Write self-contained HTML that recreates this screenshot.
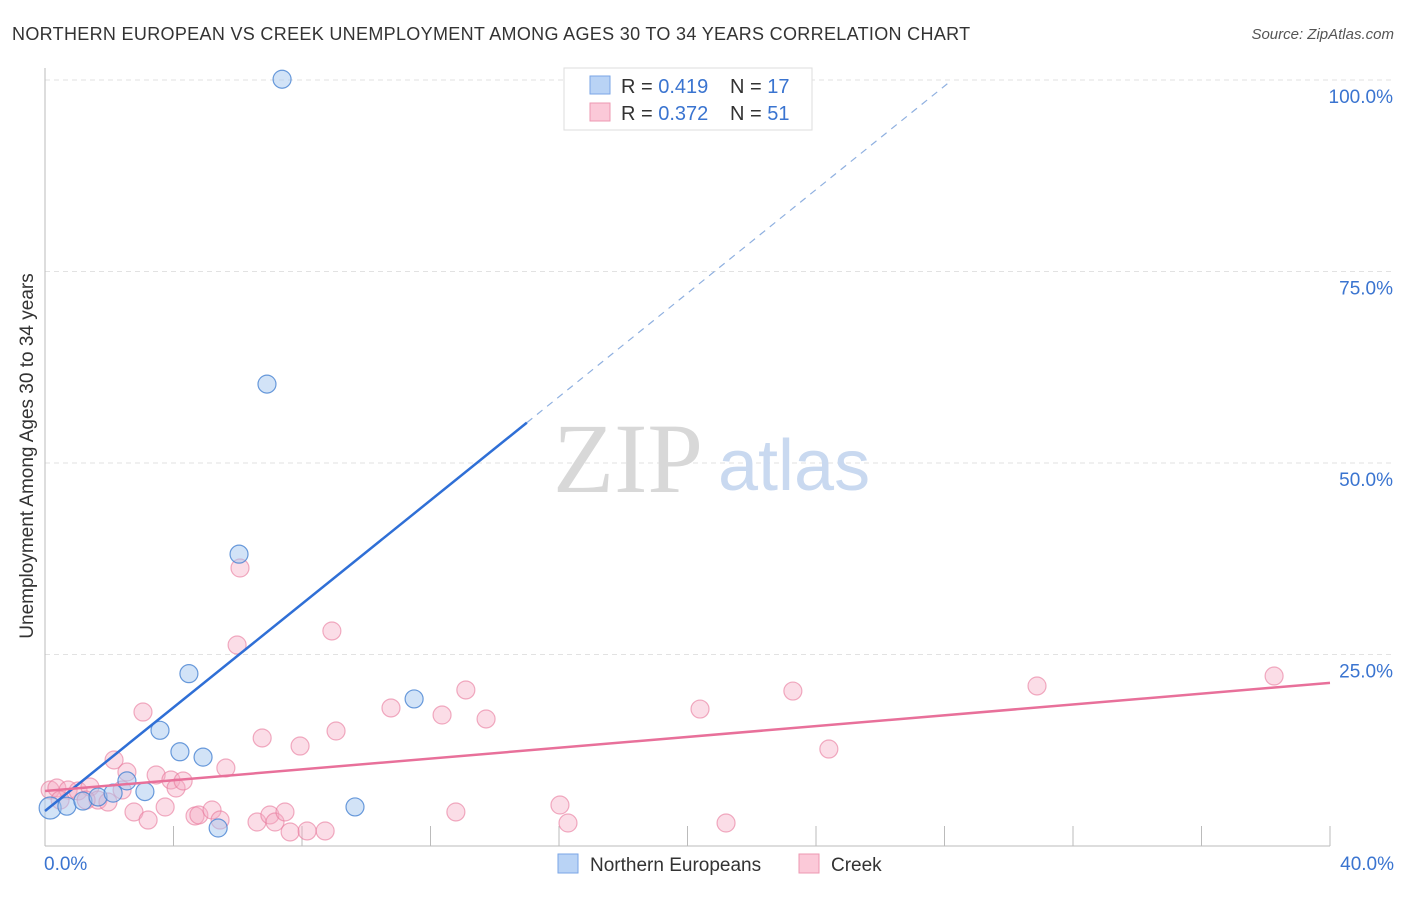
<!DOCTYPE html>
<html><head><meta charset="utf-8"><style>
body{margin:0;background:#fff;font-family:"Liberation Sans",sans-serif}
svg text{font-family:"Liberation Sans",sans-serif}
</style></head><body>
<svg id="chart" width="1406" height="892" xmlns="http://www.w3.org/2000/svg">
<text x="12" y="40" font-size="18" fill="#333" letter-spacing="0.32">NORTHERN EUROPEAN VS CREEK UNEMPLOYMENT AMONG AGES 30 TO 34 YEARS CORRELATION CHART</text>
<text x="1394" y="39" font-size="15" fill="#555" font-style="italic" text-anchor="end">Source: ZipAtlas.com</text>
<g id="grid"></g>
<g id="axes"></g>
<text x="553" y="492" font-size="100" fill="#d8d8d8" style="font-family:'Liberation Serif',serif">ZIP</text>
<text x="718" y="490" font-size="72" fill="#c9d9f0">atlas</text>
<g id="pts"></g>
<g id="lines"></g>
<text x="33" y="456" font-size="19" fill="#333" text-anchor="middle" transform="rotate(-90 33 456)">Unemployment Among Ages 30 to 34 years</text>
<g>
<rect x="564" y="68" width="248" height="62" fill="#fff" stroke="#ddd"/>
<rect x="590" y="76" width="20" height="18" fill="#b9d3f5" stroke="#7aa6e6"/>
<rect x="590" y="103" width="20" height="18" fill="#fbc9d8" stroke="#ee98b2"/>
<text x="621" y="93" font-size="20" fill="#333">R = <tspan fill="#3a74d0">0.419</tspan><tspan x="730">N = </tspan><tspan fill="#3a74d0">17</tspan></text>
<text x="621" y="120" font-size="20" fill="#333">R = <tspan fill="#3a74d0">0.372</tspan><tspan x="730">N = </tspan><tspan fill="#3a74d0">51</tspan></text>
</g>
<g>
<rect x="558" y="854" width="20" height="19" fill="#b9d3f5" stroke="#7aa6e6"/>
<text x="590" y="871" font-size="19" fill="#333">Northern Europeans</text>
<rect x="799" y="854" width="20" height="19" fill="#fbc9d8" stroke="#ee98b2"/>
<text x="831" y="871" font-size="19" fill="#333">Creek</text>
</g>
</svg>
<script>
const blueX=[0.16,0.68,1.18,1.65,2.12,2.55,3.11,3.58,4.2,4.48,4.92,5.39,6.04,6.91,7.38,9.65,11.49];
const blueY=[4.96,5.2,5.87,6.4,6.9,8.5,7.1,15.1,12.3,22.5,11.6,2.35,38.1,60.3,100.1,5.1,19.2];
const pinkX=[0.16,0.37,0.72,1.03,1.40,1.65,1.96,2.15,2.40,2.55,2.77,3.05,3.21,3.46,3.74,3.92,4.08,4.30,4.67,4.79,5.20,5.45,5.63,5.98,6.07,6.60,6.76,7.00,7.16,7.47,7.63,7.94,8.16,8.72,8.93,9.06,10.77,12.36,12.79,13.10,13.73,16.03,16.28,20.39,21.20,23.28,24.40,30.88,38.26,0.47,1.28];
const pinkY=[7.31,7.57,7.31,7.18,7.70,6.00,5.74,11.23,7.31,9.66,4.44,17.49,3.39,9.27,5.09,8.62,7.57,8.49,3.92,4.05,4.70,3.39,10.18,26.24,36.29,3.13,14.10,4.05,3.13,4.44,1.83,13.05,1.96,1.96,28.07,15.01,18.02,17.10,4.44,20.37,16.58,5.35,3.0,17.88,3.0,20.23,12.66,20.89,22.19,6.0,6.0];
const yTicks=[25,50,75,100];
const yTickLabels=["25.0%","50.0%","75.0%","100.0%"];
const xTicks=[0,4,8,12,16,20,24,28,32,36,40];
const blueTrend=[4.57,3.38];   // intercept, slope
const pinkTrend=[7.18,0.353];
const NS="http://www.w3.org/2000/svg";
const sx=v=>45+v/40*1285, sy=v=>846-v/100*766;
function mk(t,a,p){const e=document.createElementNS(NS,t);for(const k in a)e.setAttribute(k,a[k]);p.appendChild(e);return e;}
const grid=document.getElementById('grid'),axes=document.getElementById('axes'),pts=document.getElementById('pts'),lines=document.getElementById('lines');
yTicks.forEach((t,i)=>{
 const l=mk('line',{x1:45,x2:1394,y1:sy(t),y2:sy(t),stroke:'#e2e2e2','stroke-dasharray':'5,4'},grid);
 
 
 const tx=mk('text',{x:1393,y:sy(t)+23,'font-size':19,fill:'#3a74d0','text-anchor':'end'},axes);
 tx.textContent=yTickLabels[i];
 
 
});
mk('line',{x1:45,x2:45,y1:68,y2:846,stroke:'#bbb'},axes);
mk('line',{x1:45,x2:1330,y1:846,y2:846,stroke:'#bbb'},axes);
xTicks.forEach(t=>{if(t>0){const l=mk('line',{x1:sx(t),x2:sx(t),y1:826,y2:846,stroke:'#bbb'},axes);
 
 }});
const x0=mk('text',{x:44,y:870,'font-size':19,fill:'#3a74d0'},axes);x0.textContent='0.0%';


const x1=mk('text',{x:1394,y:870,'font-size':19,fill:'#3a74d0','text-anchor':'end'},axes);x1.textContent='40.0%';


pinkX.forEach((v,i)=>{const c=mk('circle',{cx:sx(v),cy:sy(pinkY[i]),r:9,fill:'rgba(246,170,195,0.4)',stroke:'rgba(232,120,155,0.6)','stroke-width':1.2},pts);
 
 });
blueX.forEach((v,i)=>{const c=mk('circle',{cx:sx(v),cy:sy(blueY[i]),r:i==0?11:9,fill:'rgba(165,200,240,0.5)',stroke:'rgba(70,130,210,0.8)','stroke-width':1.2},pts);
 
 });
const bx2=(100-blueTrend[0])/blueTrend[1];
const b1=mk('line',{x1:sx(0),y1:sy(blueTrend[0]),x2:sx(15),y2:sy(blueTrend[0]+15*blueTrend[1]),stroke:'#2f6fd6','stroke-width':2.5},lines);


const b2=mk('line',{x1:sx(15),y1:sy(blueTrend[0]+15*blueTrend[1]),x2:sx(bx2),y2:sy(100),stroke:'#8fb0e0','stroke-width':1.2,'stroke-dasharray':'7,6'},lines);


const p1=mk('line',{x1:sx(0),y1:sy(pinkTrend[0]),x2:sx(40),y2:sy(pinkTrend[0]+40*pinkTrend[1]),stroke:'#e8709a','stroke-width':2.5},lines);


</script>
</body></html>
